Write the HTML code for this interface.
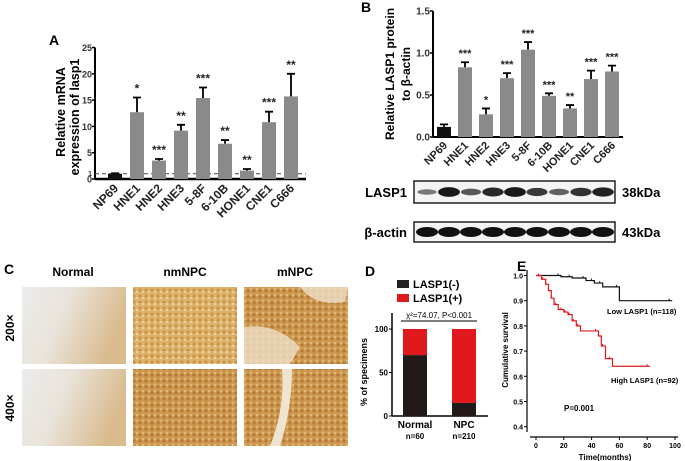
<!DOCTYPE html>
<html><head><meta charset="utf-8"><style>
body{margin:0;background:#fff;}
svg{display:block;font-family:"Liberation Sans",sans-serif;font-weight:bold;}
</style></head><body>
<svg id="fig" width="685" height="461" viewBox="0 0 685 461" xmlns="http://www.w3.org/2000/svg">
<defs>
<pattern id="tissueA" width="6" height="6" patternUnits="userSpaceOnUse"><rect width="6" height="6" fill="#ddb36c"/><circle cx="2" cy="2" r="1.5" fill="#c99143"/><circle cx="5" cy="4" r="1" fill="#eedcb5"/></pattern>
<pattern id="tissueB" width="6" height="6" patternUnits="userSpaceOnUse"><rect width="6" height="6" fill="#cf9a52"/><circle cx="2" cy="3" r="1.6" fill="#b57a35"/><circle cx="5" cy="1" r="1" fill="#e2c08a"/></pattern>
<linearGradient id="normG" x1="0" y1="0" x2="1" y2="0.3"><stop offset="0" stop-color="#ececec"/><stop offset="0.45" stop-color="#e9e3da"/><stop offset="1" stop-color="#d9bb8e"/></linearGradient>
</defs>
<g id="panelA"></g>
<g id="panelB"></g>
<g id="panelC"></g>
<g id="panelD"></g>
<g id="panelE"></g>
</svg>
<script>
const NS="http://www.w3.org/2000/svg";
const cellLines=["NP69","HNE1","HNE2","HNE3","5-8F","6-10B","HONE1","CNE1","C666"];
const mrnaValues=[1,12.7,3.5,9.2,15.4,6.7,1.6,10.8,15.7];
const mrnaErrTop=[1.1,15.5,3.8,10.3,17.4,7.4,1.9,12.8,20];
const mrnaStars=["","*","***","**","***","**","**","***","**"];
const mrnaTicks=[0,5,10,15,20,25];
const protValues=[0.12,0.83,0.27,0.70,1.04,0.49,0.34,0.69,0.78];
const protErrTop=[0.15,0.89,0.34,0.76,1.13,0.52,0.38,0.79,0.85];
const protStars=["","***","*","***","***","***","**","***","***"];
const protTicks=[0,0.5,1.0,1.5];
const blotLasp=[0.35,0.95,0.55,0.85,0.95,0.75,0.5,0.8,0.9];
const groups=["Normal","NPC"];
const groupN=["n=60","n=210"];
const negPct=[70,15];
const survTicksY=[0.4,0.5,0.6,0.7,0.8,0.9,1.0];
const survTicksX=[0,20,40,60,80,100];
const lowT=[0,18,26,36,42,48,60,98];
const lowS=[1,0.995,0.99,0.98,0.97,0.955,0.90,0.90];
const highT=[0,4,7,9,11,13,16,20,23,26,29,32,45,47,50,55,82];
const highS=[1,0.985,0.965,0.94,0.91,0.885,0.865,0.855,0.845,0.82,0.80,0.78,0.76,0.72,0.67,0.64,0.64];

function el(parent,tag,attrs,text){const e=document.createElementNS(NS,tag);for(const k in attrs)e.setAttribute(k,attrs[k]);if(text!==undefined)e.textContent=text;parent.appendChild(e);return e;}

function barPanel(g,o){
  const y=v=>o.y0-(v-o.vmin)/(o.vmax-o.vmin)*(o.y0-o.y1);
  const x=i=>o.x0+o.first+i*o.step;
  el(g,'line',{x1:o.ax,y1:o.y1,x2:o.ax,y2:o.y0,stroke:'#000','stroke-width':2});
  el(g,'line',{x1:o.ax,y1:o.y0,x2:o.xend,y2:o.y0,stroke:'#000','stroke-width':o.bw0});
  o.ticks.forEach(t=>{
    el(g,'line',{x1:o.ax-3,y1:y(t),x2:o.ax,y2:y(t),stroke:'#000','stroke-width':1.5});
    const tl=el(g,'text',{x:o.ax-3,y:y(t)+3.5,'font-size':o.tfs,'text-anchor':'end',fill:'#333'},o.fmt(t));
    
  });
  if(o.dash){const d=el(g,'line',{x1:o.ax,y1:y(1),x2:o.xend,y2:y(1),stroke:'#444','stroke-width':1,'stroke-dasharray':'4,3'});}
  o.vals.forEach((v,i)=>{
    const cx=x(i);
    const eb=el(g,'path',{d:`M${cx},${y(v)} V${y(o.err[i])} M${cx-4},${y(o.err[i])} H${cx+4}`,stroke:'#000','stroke-width':1.8,fill:'none'});
    
    const b=el(g,'rect',{x:cx-o.bw/2,y:y(v),width:o.bw,height:o.y0-y(v),fill:i===0?'#111':'#8a8a8a'});
    
    if(o.stars[i]){const s=el(g,'text',{x:cx,y:y(o.err[i])-5,'font-size':o.sfs,'text-anchor':'middle',fill:'#222'},o.stars[i]);}
    const lab=el(g,'text',{x:cx+4,y:o.y0+o.lo,'font-size':o.lfs,'text-anchor':'end',fill:'#222',transform:`rotate(-45 ${cx+4} ${o.y0+o.lo})`},cellLines[i]);
    
  });
}
// Panel A
const gA=document.getElementById('panelA');
let t=el(gA,'text',{x:49,y:45,'font-size':14},'A');
barPanel(gA,{x0:95,ax:95,first:20,step:22,xend:306,y0:179,y1:47.5,vmin:0,vmax:25,vals:mrnaValues,err:mrnaErrTop,stars:mrnaStars,ticks:mrnaTicks,fmt:v=>String(v),bw:14,bw0:2.5,tfs:9,sfs:12,lfs:12,lo:10,dash:true});
t=el(gA,'text',{x:0,y:0,'font-size':12.5,'text-anchor':'middle',transform:'translate(65 112) rotate(-90)'},'Relative mRNA');
t=el(gA,'text',{x:0,y:0,'font-size':12.5,'text-anchor':'middle',transform:'translate(79 117) rotate(-90)'},'expression of lasp1');
t=el(gA,'text',{x:92,y:176,'font-size':7,'text-anchor':'end',fill:'#333'},'1');
// Panel B
const gB=document.getElementById('panelB');
t=el(gB,'text',{x:361,y:12,'font-size':14},'B');
barPanel(gB,{x0:433,ax:433,first:11,step:21,xend:623,y0:137,y1:11,vmin:0,vmax:1.5,vals:protValues,err:protErrTop,stars:protStars,ticks:protTicks,fmt:v=>v.toFixed(1),bw:14,bw0:2,tfs:10,sfs:11,lfs:11,lo:9,dash:false});
t=el(gB,'text',{x:0,y:0,'font-size':12,'text-anchor':'middle',transform:'translate(394 74) rotate(-90)'},'Relative LASP1 protein');
t=el(gB,'text',{x:0,y:0,'font-size':12,'text-anchor':'middle',transform:'translate(410 74) rotate(-90)'},'to β-actin');
// blots
[[181,203,'LASP1','38kDa',blotLasp,'blot-lasp1'],[222,242,'β-actin','43kDa',[1,1,1,1,1,1,1,1,1],'blot-beta-actin']].forEach(r=>{
  const bg=el(gB,'g',{});
  el(bg,'rect',{x:414,y:r[0],width:201,height:r[1]-r[0],fill:'#f4f4f4',stroke:'#222','stroke-width':1.5});
  const cy=(r[0]+r[1])/2;
  r[4].forEach((v,i)=>{const bx=427+i*22;el(bg,'ellipse',{cx:bx,cy:cy,rx:9+2*v,ry:1.5+3.5*v,fill:'#111','fill-opacity':0.3+0.7*v});});
  el(bg,'text',{x:407,y:cy+5,'font-size':13,'text-anchor':'end'},r[2]);
  el(bg,'text',{x:622,y:cy+5,'font-size':13},r[3]);
});
// Panel C
const gC=document.getElementById('panelC');
t=el(gC,'text',{x:4,y:274,'font-size':14},'C');
[['Normal',73],['nmNPC',185],['mNPC',295]].forEach(c=>{const tt=el(gC,'text',{x:c[1],y:276,'font-size':12,'text-anchor':'middle'},c[0]);});
[['200×',328],['400×',408]].forEach(r=>{const tt=el(gC,'text',{x:0,y:0,'font-size':12,'text-anchor':'middle',transform:`translate(14 ${r[1]}) rotate(-90)`},r[0]);});
[287,369].forEach((yy,ri)=>{[[22,'url(#normG)'],[133,ri?'url(#tissueB)':'url(#tissueA)'],[244,'url(#tissueB)']].forEach((c,ci)=>{
  const im=el(gC,'rect',{x:c[0],y:yy,width:104,height:77,fill:c[1]});
  if(ci===2&&ri===0)el(gC,'path',{d:`M244,${yy+40} Q275,${yy+35} 300,${yy+60} L290,${yy+77} L244,${yy+77}Z M300,${yy} Q315,${yy+20} 345,${yy+15} L348,${yy} Z`,fill:'#eee0c8','fill-opacity':0.8});
  if(ci===2&&ri===1)el(gC,'path',{d:`M270,${yy+77} Q285,${yy+40} 282,${yy} L292,${yy} Q292,${yy+40} 280,${yy+77}Z`,fill:'#efe4d0'});
});});
// Panel D
const gD=document.getElementById('panelD');
t=el(gD,'text',{x:365,y:276,'font-size':14},'D');
[['#222','LASP1(-)',280],['#e0191d','LASP1(+)',294]].forEach(l=>{const lg=el(gD,'g',{});el(lg,'rect',{x:397,y:l[2],width:12,height:8,fill:l[0]});el(lg,'text',{x:413,y:l[2]+8,'font-size':11},l[1]);});
const dy=v=>416-v/100*87;
el(gD,'line',{x1:392,y1:313,x2:392,y2:416,stroke:'#000','stroke-width':1.5});
el(gD,'line',{x1:392,y1:416,x2:488,y2:416,stroke:'#000','stroke-width':1.5});
[0,50,100].forEach(v=>{el(gD,'line',{x1:389,y1:dy(v),x2:392,y2:dy(v),stroke:'#000'});el(gD,'text',{x:388,y:dy(v)+3,'font-size':8,'text-anchor':'end'},String(v));});
t=el(gD,'text',{x:0,y:0,'font-size':9,'text-anchor':'middle',transform:'translate(367 372) rotate(-90)'},'% of specimens');
el(gD,'text',{x:439,y:318,'font-size':8,'text-anchor':'middle','font-weight':'normal'},'χ²=74.07, P<0.001');
el(gD,'line',{x1:401,y1:321,x2:477,y2:321,stroke:'#333','stroke-width':1.2});
[403,452].forEach((bx,i)=>{
  const r=el(gD,'rect',{x:bx,y:dy(100),width:24,height:dy(negPct[i])-dy(100),fill:'#e0191d'});
  const k=el(gD,'rect',{x:bx,y:dy(negPct[i]),width:24,height:416-dy(negPct[i]),fill:'#221a18'});
  el(gD,'text',{x:bx+12,y:428,'font-size':10,'text-anchor':'middle'},groups[i]);
  el(gD,'text',{x:bx+12,y:439,'font-size':8,'text-anchor':'middle'},groupN[i]);
});
// Panel E
const gE=document.getElementById('panelE');
t=el(gE,'text',{x:517,y:271,'font-size':14},'E');
const ex=v=>536+v/100*139, ey=v=>275.5+(1-v)*252;
el(gE,'line',{x1:527,y1:270,x2:527,y2:432,stroke:'#000','stroke-width':1.2});
el(gE,'line',{x1:530,y1:437,x2:678,y2:437,stroke:'#000','stroke-width':1.2});
survTicksY.forEach(v=>{el(gE,'line',{x1:524,y1:ey(v),x2:527,y2:ey(v),stroke:'#000'});el(gE,'text',{x:523,y:ey(v)+3,'font-size':7,'text-anchor':'end'},v.toFixed(1));});
survTicksX.forEach(v=>{el(gE,'line',{x1:ex(v),y1:437,x2:ex(v),y2:440,stroke:'#000'});el(gE,'text',{x:ex(v),y:448,'font-size':7,'text-anchor':'middle'},String(v));});
el(gE,'text',{x:605,y:460,'font-size':8,'text-anchor':'middle'},'Time(months)');
t=el(gE,'text',{x:0,y:0,'font-size':8,'text-anchor':'middle',transform:'translate(508 350) rotate(-90)'},'Cumulative survival');
function km(T,S,col,name){let d=`M${ex(T[0])},${ey(S[0])}`;for(let i=1;i<T.length;i++){d+=` H${ex(T[i])} V${ey(S[i])}`;}
  const p=el(gE,'path',{d:d,fill:'none',stroke:col,'stroke-width':1.2});
  for(let i=1;i<T.length;i++){el(gE,'line',{x1:ex(T[i])-3,y1:ey(S[i-1]),x2:ex(T[i])-3,y2:ey(S[i-1])-2,stroke:col});}
}
km(lowT,lowS,'#111','low-lasp1-curve');
km(highT,highS,'#e0191d','high-lasp1-curve');
el(gE,'text',{x:607,y:314,'font-size':7.5},'Low LASP1 (n=118)');
el(gE,'text',{x:611,y:383,'font-size':7.5},'High LASP1 (n=92)');
el(gE,'text',{x:564,y:411,'font-size':8},'P=0.001');
</script>
</body></html>
